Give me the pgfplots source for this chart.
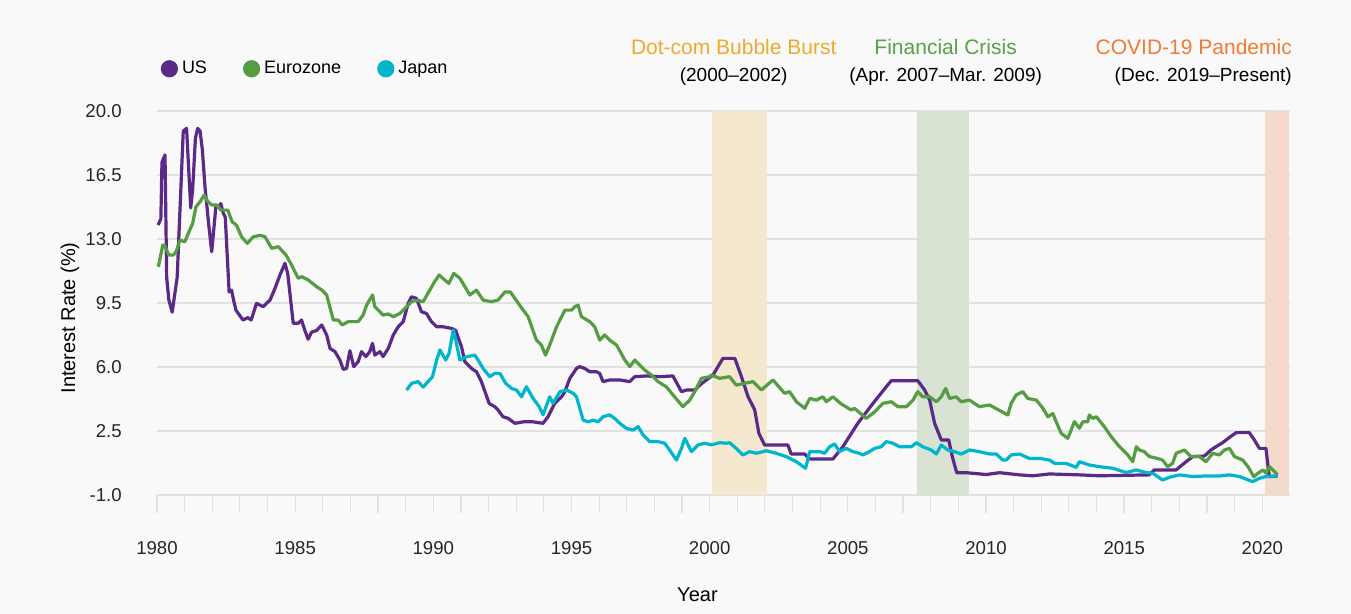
\documentclass[border=0pt]{standalone}
\usepackage{fontspec}
\setmainfont{Liberation Sans}
\usepackage{pgfplots}
\pgfplotsset{compat=1.18}

\definecolor{bgc}{HTML}{F9F9F9}
\definecolor{usc}{HTML}{5B2A86}
\definecolor{euc}{HTML}{559D42}
\definecolor{jpc}{HTML}{00B5CC}
\definecolor{gridc}{HTML}{E2E2E2}
\definecolor{dotc}{HTML}{F4E8CF}
\definecolor{finc}{HTML}{D8E3D4}
\definecolor{covc}{HTML}{F4DACB}
\definecolor{dott}{HTML}{EEAA2B}
\definecolor{fint}{HTML}{5AA14A}
\definecolor{covt}{HTML}{F07B37}

\begin{document}
\begin{tikzpicture}
% page background, 0.5pt per reference pixel
\fill[bgc] (-78.5pt,-59.5pt) rectangle (597pt,247.5pt);
\begin{axis}[
  at={(0,0)}, anchor=south west,
  scale only axis, width=566.5pt, height=192pt,
  xmin=1980, xmax=2021, ymin=-1, ymax=20,
  clip=false,
  xtick={1980,1985,...,2020},
  xticklabels={1980,1985,1990,1995,2000,2005,2010,2015,2020},
  minor xtick={1980,...,2020},
  ytick={-1,2.5,6,9.5,13,16.5,20},
  yticklabels={-1.0,2.5,6.0,9.5,13.0,16.5,20.0},
  ymajorgrids, grid style={gridc, line width=0.6pt},
  axis x line*=bottom, axis y line*=left,
  x axis line style={gridc, line width=0.6pt, -},
  y axis line style={draw=none},
  xtick style={gridc, line width=0.6pt},
  minor tick style={gridc, line width=0.6pt},
  ytick style={draw=none},
  tick align=outside,
  major tick length=9pt, minor tick length=9pt,
  ticklabel style={font=\fontsize{9.3}{11}\selectfont, text=black!85},
  xticklabel style={anchor=north, inner sep=0pt, yshift=-14pt},
  yticklabel style={anchor=east, inner sep=0pt, xshift=-8.5pt},
  xlabel={Year}, ylabel={Interest Rate (\%)},
  label style={font=\fontsize{10}{12}\selectfont},
  xlabel style={at={(axis description cs:0.477,-0.26)}, anchor=center},
  ylabel style={at={(axis description cs:-0.0768,0.461)}, anchor=center},
  legend columns=3,
  legend style={at={(axis description cs:0.003,1.11)}, anchor=west,
    draw=none, fill=none, inner sep=0pt,
    font=\fontsize{9}{11}\selectfont,
    /tikz/every even column/.append style={column sep=16pt}},
  legend image code/.code={\fill[#1] (3.5pt,0) circle (3.5pt);},
  every axis plot/.append style={line width=1.6pt, line join=round},
]
% event shading
\addplot[draw=none, fill=dotc, forget plot] coordinates {(2000.07,-1) (2000.07,20) (2002.06,20) (2002.06,-1)};
\addplot[draw=none, fill=finc, forget plot] coordinates {(2007.49,-1) (2007.49,20) (2009.37,20) (2009.37,-1)};
\addplot[draw=none, fill=covc, forget plot] coordinates {(2020.11,-1) (2020.11,20) (2020.98,20) (2020.98,-1)};

% US
\addplot[usc] coordinates {
(1980.04,13.76)(1980.14,14.1)(1980.18,17.2)(1980.29,17.6)(1980.35,10.9)(1980.43,9.66)(1980.55,9.0)(1980.73,10.9)(1980.95,18.9)(1981.07,19.05)(1981.22,14.7)(1981.29,15.7)(1981.39,18.5)(1981.47,19.05)(1981.56,18.9)(1981.64,17.9)(1981.74,15.8)(1981.88,13.67)(1981.98,12.3)(1982.13,14.76)(1982.25,14.8)(1982.31,14.94)(1982.40,14.4)(1982.47,14.2)(1982.61,10.1)(1982.70,10.2)(1982.77,9.66)(1982.86,9.1)(1983.11,8.57)(1983.29,8.7)(1983.41,8.57)(1983.60,9.48)(1983.84,9.3)(1984.09,9.66)(1984.27,10.3)(1984.45,11.03)(1984.63,11.67)(1984.73,11.12)(1984.81,10.03)(1984.93,8.39)(1985.11,8.39)(1985.23,8.57)(1985.35,8.0)(1985.47,7.52)(1985.59,7.9)(1985.78,8.0)(1985.96,8.3)(1986.14,7.75)(1986.26,7.02)(1986.44,6.84)(1986.62,6.38)(1986.74,5.87)(1986.86,5.92)(1986.98,6.89)(1987.12,6.02)(1987.28,6.29)(1987.40,6.84)(1987.56,6.57)(1987.70,6.84)(1987.80,7.29)(1987.88,6.65)(1988.07,6.84)(1988.18,6.57)(1988.37,7.02)(1988.55,7.75)(1988.73,8.2)(1988.91,8.48)(1989.09,9.48)(1989.21,9.84)(1989.39,9.75)(1989.57,9.02)(1989.75,8.93)(1989.93,8.48)(1990.12,8.2)(1990.35,8.2)(1990.66,8.11)(1990.81,8.0)(1991.02,7.1)(1991.14,6.29)(1991.38,5.92)(1991.56,5.74)(1991.74,5.2)(1992.02,4.01)(1992.22,3.83)(1992.34,3.65)(1992.52,3.28)(1992.71,3.19)(1992.95,2.92)(1993.25,3.0)(1993.61,3.0)(1993.97,2.92)(1994.15,3.28)(1994.39,4.01)(1994.64,4.37)(1994.76,4.65)(1994.94,5.38)(1995.18,5.92)(1995.30,6.02)(1995.48,5.92)(1995.66,5.74)(1995.90,5.74)(1996.02,5.65)(1996.14,5.2)(1996.38,5.29)(1996.75,5.29)(1997.11,5.2)(1997.29,5.47)(1997.71,5.51)(1998.19,5.47)(1998.67,5.51)(1998.85,5.01)(1998.98,4.65)(1999.16,4.74)(1999.46,4.74)(1999.64,5.01)(1999.88,5.29)(2000.12,5.56)(2000.30,6.02)(2000.48,6.47)(2000.91,6.47)(2001.15,5.47)(2001.39,4.37)(2001.63,3.65)(2001.78,2.37)(2001.99,1.73)(2002.83,1.73)(2002.95,1.24)(2003.44,1.24)(2003.62,0.97)(2004.46,0.97)(2004.82,1.64)(2005.36,2.92)(2005.91,4.01)(2006.39,4.92)(2006.57,5.25)(2007.53,5.25)(2007.78,4.74)(2007.96,4.19)(2008.14,2.92)(2008.38,2.01)(2008.65,2.01)(2008.78,1.1)(2008.94,0.22)(2009.28,0.22)(2010.01,0.12)(2010.49,0.22)(2011.21,0.1)(2011.69,0.05)(2012.30,0.15)(2013.38,0.1)(2014.10,0.05)(2015.91,0.1)(2016.09,0.37)(2016.88,0.37)(2017.06,0.6)(2017.24,0.82)(2017.48,1.1)(2017.90,1.13)(2018.14,1.46)(2018.32,1.64)(2018.56,1.86)(2018.81,2.15)(2019.05,2.41)(2019.53,2.41)(2019.71,2.01)(2019.89,1.55)(2020.13,1.55)(2020.25,0.0)(2020.55,0.04)
};
\addlegendentry{US}

% Eurozone
\addplot[euc] coordinates {
(1980.05,11.48)(1980.21,12.67)(1980.29,12.6)(1980.43,12.12)(1980.59,12.12)(1980.69,12.3)(1980.83,12.94)(1981.01,12.85)(1981.13,13.3)(1981.29,13.85)(1981.41,14.76)(1981.56,15.04)(1981.71,15.4)(1981.82,15.1)(1981.98,14.86)(1982.16,14.86)(1982.30,14.6)(1982.42,14.58)(1982.56,14.58)(1982.72,13.94)(1982.88,13.75)(1983.06,13.12)(1983.27,12.76)(1983.48,13.12)(1983.73,13.2)(1983.91,13.12)(1984.15,12.49)(1984.39,12.58)(1984.67,12.12)(1984.87,11.58)(1985.11,10.85)(1985.23,10.94)(1985.47,10.76)(1985.78,10.39)(1985.97,10.2)(1986.14,9.94)(1986.38,8.57)(1986.56,8.57)(1986.70,8.3)(1986.92,8.48)(1987.09,8.48)(1987.28,8.48)(1987.46,8.84)(1987.59,9.4)(1987.80,9.94)(1987.88,9.3)(1988.18,8.84)(1988.37,8.9)(1988.55,8.75)(1988.79,8.93)(1988.97,9.2)(1989.21,9.57)(1989.39,9.66)(1989.63,9.57)(1989.87,10.2)(1990.02,10.6)(1990.21,11.03)(1990.42,10.75)(1990.56,10.57)(1990.74,11.12)(1990.96,10.85)(1991.10,10.5)(1991.32,9.94)(1991.56,10.2)(1991.80,9.66)(1992.10,9.57)(1992.34,9.66)(1992.59,10.1)(1992.79,10.1)(1992.95,9.75)(1993.25,9.11)(1993.43,8.75)(1993.73,7.47)(1993.91,7.2)(1994.06,6.65)(1994.21,7.2)(1994.46,8.2)(1994.58,8.57)(1994.76,9.11)(1995.00,9.11)(1995.12,9.3)(1995.24,9.38)(1995.36,8.75)(1995.66,8.48)(1995.84,8.2)(1996.02,7.47)(1996.20,7.75)(1996.38,7.47)(1996.63,7.2)(1996.93,6.38)(1997.11,6.02)(1997.29,6.38)(1997.47,6.1)(1997.65,5.83)(1997.89,5.56)(1998.13,5.2)(1998.43,4.92)(1998.73,4.37)(1999.03,3.83)(1999.28,4.19)(1999.46,4.65)(1999.70,5.38)(2000.00,5.47)(2000.06,5.56)(2000.36,5.38)(2000.72,5.47)(2000.96,5.01)(2001.57,5.2)(2001.87,4.74)(2002.29,5.29)(2002.71,4.56)(2002.89,4.65)(2003.14,4.1)(2003.44,3.74)(2003.62,4.28)(2003.86,4.19)(2004.10,4.37)(2004.22,4.1)(2004.46,4.37)(2004.76,3.98)(2005.12,3.65)(2005.24,3.74)(2005.66,3.19)(2005.91,3.47)(2006.27,4.01)(2006.57,4.1)(2006.81,3.83)(2007.12,3.83)(2007.36,4.19)(2007.53,4.65)(2007.71,4.37)(2007.96,4.37)(2008.20,4.1)(2008.38,4.37)(2008.54,4.83)(2008.68,4.28)(2008.92,4.37)(2009.10,4.1)(2009.40,4.19)(2009.76,3.83)(2010.13,3.92)(2010.67,3.47)(2010.79,3.38)(2010.91,4.01)(2011.09,4.47)(2011.33,4.65)(2011.51,4.28)(2011.82,4.19)(2012.06,3.74)(2012.24,3.28)(2012.42,3.45)(2012.54,3.0)(2012.72,2.37)(2012.96,2.1)(2013.20,3.01)(2013.38,2.65)(2013.50,3.0)(2013.68,3.0)(2013.74,3.38)(2013.86,3.19)(2013.99,3.28)(2014.28,2.74)(2014.53,2.19)(2014.83,1.64)(2015.13,1.19)(2015.31,0.82)(2015.44,1.64)(2015.55,1.46)(2015.73,1.37)(2015.91,1.1)(2016.21,1.0)(2016.39,0.91)(2016.57,0.55)(2016.75,0.73)(2016.88,1.28)(2017.18,1.46)(2017.42,1.1)(2017.72,1.1)(2017.96,0.82)(2018.20,1.28)(2018.44,1.19)(2018.63,1.46)(2018.81,1.55)(2018.99,1.1)(2019.29,0.91)(2019.48,0.55)(2019.69,0.0)(2019.84,0.19)(2020.03,0.37)(2020.13,0.19)(2020.26,0.55)(2020.38,0.37)(2020.55,0.1)
};
\addlegendentry{Eurozone}

% Japan
\addplot[jpc] coordinates {
(1989.03,4.74)(1989.21,5.1)(1989.45,5.2)(1989.63,4.9)(1989.81,5.2)(1989.97,5.47)(1990.12,6.38)(1990.24,6.93)(1990.45,6.38)(1990.57,6.75)(1990.72,8.02)(1990.81,7.47)(1990.96,6.38)(1991.20,6.56)(1991.50,6.65)(1991.62,6.38)(1991.80,5.92)(1992.04,5.47)(1992.22,5.65)(1992.41,5.65)(1992.62,5.1)(1992.83,4.83)(1993.01,4.74)(1993.19,4.37)(1993.37,4.92)(1993.61,4.28)(1993.83,3.83)(1993.97,3.38)(1994.21,4.37)(1994.33,4.01)(1994.58,4.65)(1994.82,4.74)(1995.06,4.56)(1995.18,4.37)(1995.42,3.1)(1995.60,3.0)(1995.78,3.1)(1995.96,3.0)(1996.14,3.28)(1996.38,3.38)(1996.56,3.19)(1996.75,2.92)(1996.99,2.64)(1997.23,2.55)(1997.41,2.74)(1997.59,2.28)(1997.83,1.92)(1998.13,1.92)(1998.37,1.83)(1998.55,1.46)(1998.80,0.91)(1998.98,1.55)(1999.10,2.1)(1999.34,1.37)(1999.58,1.74)(1999.82,1.83)(2000.06,1.74)(2000.36,1.86)(2000.60,1.83)(2000.72,1.86)(2000.96,1.55)(2001.20,1.19)(2001.45,1.37)(2001.69,1.28)(2002.05,1.42)(2002.41,1.28)(2002.77,1.1)(2003.14,0.82)(2003.47,0.46)(2003.62,1.37)(2003.98,1.37)(2004.16,1.28)(2004.34,1.64)(2004.52,1.79)(2004.70,1.37)(2004.94,1.55)(2005.18,1.37)(2005.42,1.28)(2005.54,1.19)(2005.78,1.37)(2005.97,1.55)(2006.21,1.64)(2006.39,1.92)(2006.63,1.83)(2006.87,1.64)(2007.30,1.64)(2007.48,1.86)(2007.71,1.64)(2008.02,1.46)(2008.20,1.24)(2008.38,1.73)(2008.62,1.46)(2008.86,1.37)(2009.10,1.24)(2009.40,1.46)(2009.76,1.37)(2010.13,1.24)(2010.37,1.24)(2010.61,0.91)(2010.73,0.91)(2010.91,1.19)(2011.21,1.24)(2011.57,1.0)(2011.94,1.0)(2012.30,0.91)(2012.48,0.73)(2012.90,0.73)(2013.26,0.51)(2013.38,0.82)(2013.74,0.64)(2014.10,0.55)(2014.59,0.46)(2015.07,0.23)(2015.44,0.37)(2015.79,0.23)(2016.03,0.19)(2016.39,-0.18)(2016.64,-0.03)(2017.00,0.1)(2017.48,0.01)(2017.96,0.04)(2018.44,0.04)(2018.81,0.1)(2019.17,0.01)(2019.65,-0.27)(2019.89,-0.09)(2020.13,0.01)(2020.55,0.04)
};
\addlegendentry{Japan}

% event labels
\node[font=\fontsize{10.5}{12}\selectfont, text=dott] at (axis cs:2000.87,23.5) {Dot-com Bubble Burst};
\node[font=\fontsize{9.5}{11}\selectfont] at (axis cs:2000.87,21.86) {(2000–2002)};
\node[font=\fontsize{10.5}{12}\selectfont, text=fint] at (axis cs:2008.54,23.5) {Financial Crisis};
\node[font=\fontsize{9.5}{11}\selectfont] at (axis cs:2008.54,21.86) {(Apr. 2007–Mar. 2009)};
\node[font=\fontsize{10.5}{12}\selectfont, text=covt, anchor=east, inner sep=0pt] at (axis cs:2021.08,23.5) {COVID-19 Pandemic};
\node[font=\fontsize{9.5}{11}\selectfont, anchor=east, inner sep=0pt] at (axis cs:2021.08,21.86) {(Dec. 2019–Present)};
\end{axis}
\pgfresetboundingbox
\useasboundingbox (-78.5pt,-59.5pt) rectangle (597pt,247.5pt);
\end{tikzpicture}
\end{document}
